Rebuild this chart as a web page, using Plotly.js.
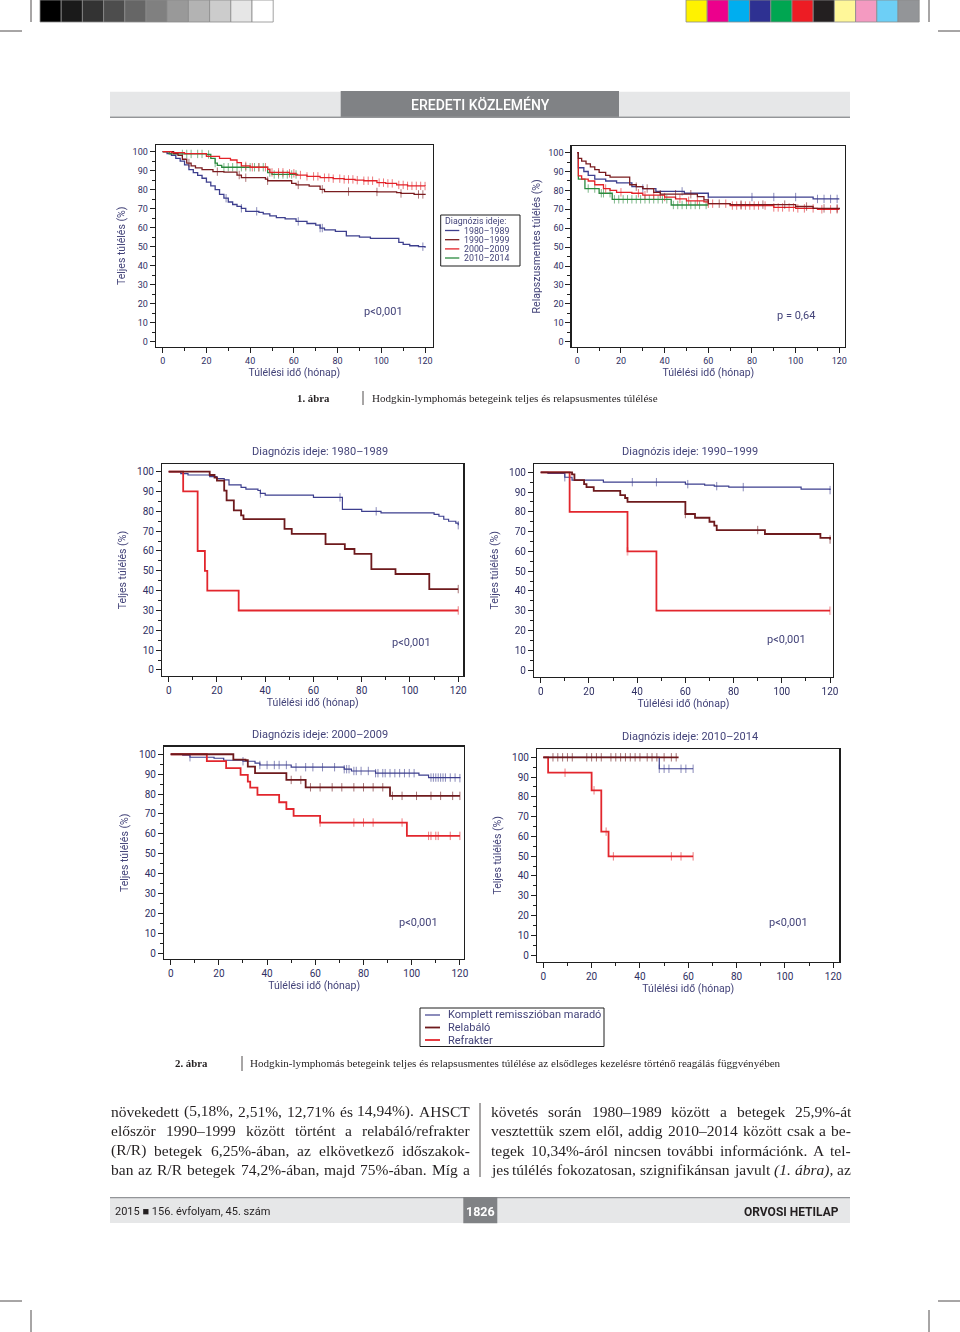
<!DOCTYPE html>
<html lang="hu"><head><meta charset="utf-8">
<script src="https://cdn.plot.ly/plotly-3.0.1.min.js"></script>
<style>html,body{margin:0;padding:0;background:#fff}#chart{width:960px;height:1332px}</style>
</head><body><div id="chart"></div>
<script>
// ================= DATA =================
const xTicks = [0,20,40,60,80,100,120];
const yTicks = [0,10,20,30,40,50,60,70,80,90,100];
const periodNames = ['1980–1989','1990–1999','2000–2009','2010–2014'];
const responseNames = ['Komplett remisszióban maradó','Relabáló','Refrakter'];
const pValues = ['p<0,001','p = 0,64','p<0,001','p<0,001','p<0,001','p<0,001'];

// Figure 1 (left) – overall survival by diagnosis period
const os8089_t = [0,2,4,6,8,10,12,14,16,18,20,22,24,26,28,30,32,34,36,38,44,46,49,52,56,61,66,70,72,74,79,84,90,95,108,110,113,117,120];
const os8089_s = [100,99,98,96.5,95,93,90.5,89,87.5,86,84,82,80,77.5,75.5,73.5,72.2,71.2,70.2,68.6,68,67.3,66.2,65.3,64.6,63.3,62.2,61.3,59.8,58.8,58,55.7,55,54.4,52.3,51.2,50.5,50,49.5];
const os8089_c = [29,36,43,62,72,73,119];
const os9099_t = [0,5,7,9,11,13,15,18,23,28,34,36,47,48,59,61,67,72,74,85,98,107,109,115,120];
const os9099_s = [100,99,98,96,94,92.5,91.5,90.5,89.5,89.2,87.7,86.3,85.5,84.7,83.3,82.5,81.9,80.2,79,79,78.8,78.4,78,77.5,77.2];
const os9099_c = [12,25,35,38,48,62,73,85,98,109,117,119];
const os0009_t = [0,4,10,20,26,31,34,36,40,48,49,58,61,66,72,78,83,88,92,98,102,107,112,120];
const os0009_s = [100,99.5,99,97.5,96.5,95.6,94.2,92.5,91.8,90.7,89.1,88.6,87.7,87,86.3,85.8,85.4,85,84.7,83.7,83.3,82.5,82,81.9];
const os0009_c = [38,41,44,47,50,53,55,58,60,63,66,69,71,74,76,78,81,83,85,87,89,92,94,96,99,101,103,105,108,110,112,114,116,118,120];
const os1014_t = [0,3,20,22,24,25,27,48,50,62];
const os1014_s = [100,98.8,98.5,96.5,94,92.8,91.8,89,88,88];
const os1014_c = [9,11,13,16,18,21,24,28,30,32,34,36,38,40,42,44,46,49,51,53,55,57,59,61];

// Figure 1 (right) – relapse-free survival by diagnosis period
const rfs8089_t = [0,0.5,3,5,8,13,18,25,30,36,49,60,108,120];
const rfs8089_s = [100,92,90,88,86,85,84,82,81,79.5,78.5,76.5,75.5,75.5];
const rfs8089_c = [30,48,60,80,90,100,110,113,116,119];
const rfs9099_t = [0,0.5,2,4,6,8,10,13,15,24,27,30,35,38,55,58,60,70,100,108,120];
const rfs9099_s = [100,97,95.5,94,92.5,91,89.5,88,87,83,82,81,79,78,76.7,75,73,72.5,71.5,70.5,70];
const rfs9099_c = [27,32,38,45,52,65,75,85,95,105,113,119];
const rfs0009_t = [0,0.5,2,5,8,12,15,18,25,30,40,45,50,58,60,70,90,100,110,120];
const rfs0009_s = [100,87.7,86,85,83,81,80,79,78.5,77.5,76.5,75.5,74.5,74,73,72,71,70.5,70,70];
const rfs0009_c = [13,20,28,31,35,40,47,51,55,60,62,68,71,73,75,77,79,81,83,86,90,92,94,97,99,101,104,108,112,116,119];
const rfs1014_t = [0,0.5,3.5,10,16,43,60];
const rfs1014_s = [100,86,81,78.5,75.3,72.3,72.3];
const rfs1014_c = [5,8,11,12,15,17,19,21,23,25,27,29,31,33,35,37,39,41,44,46,48,50,52,54,56,59];

// Figure 2 – overall survival by response to first-line treatment
// A: 1980–1989
const a_cr_t = [0,5,8,17,20,23,25,30,32,37,38,40,60,72,80,88,110,112,114,116,119,120];
const a_cr_s = [100,99,98.3,97.5,96.5,95.8,93.3,92.1,91.2,90.5,89,88.2,87,81,80,79.2,78.5,77.5,76,75,74,73];
const a_cr_c = [38,71,86,120];
const a_rel_t = [0,17,19,20,23,24,27,30,31,48,51,65,73,77,84,94,108,120];
const a_rel_s = [100,98.3,97,95.5,90.4,85.5,80.5,78,76.1,71.1,68.6,63.5,61,58.5,50.9,48.4,40.8,40.8];
const a_rel_c = [120];
const a_ref_t = [0,6,12,15,16,29,120];
const a_ref_s = [100,90,60,50,40,30,30];
const a_ref_c = [120];
// B: 1990–1999
const b_cr_t = [0,3,10,13,26,60,68,72,78,108,120];
const b_cr_s = [100,99.5,97.5,96,95,94,93.5,93,92.5,91.5,91];
const b_cr_c = [10,38,48,61,73,84,120];
const b_rel_t = [0,13,14,18,19,22,33,35,36,60,64,70,72,73,93,116,120];
const b_rel_s = [100,99,96,94,92.5,90.6,88.5,87,85,78.9,77,75,73,70.8,68.8,66.8,66];
const b_rel_c = [60,90,120];
const b_ref_t = [0,12,36,48,120];
const b_ref_s = [100,80,60,30,30];
const b_ref_c = [36,120];
// C: 2000–2009
const c_cr_t = [0,5,8,18,22,30,35,37,50,72,75,85,103,107,120];
const c_cr_s = [100,99.5,98.5,98,97,96.5,95.5,94.6,93.5,92.5,91.6,90.5,89.5,88.3,88];
const c_cr_c = [8,30,37,40,43,45,48,52,56,59,63,68,72,73,74,76,77,79,82,85,86,88,89,91,93,95,97,99,101,108,109,110,111,112,113,114,116,118,120];
const c_rel_t = [0,26,31,32,35,48,56,91,120];
const c_rel_s = [100,97.3,97,93.8,90.5,87.1,83.4,79.1,79.1];
const c_rel_c = [50,54,58,62,67,71,76,80,84,88,92,96,102,108,112,117,120];
const c_ref_t = [0,15,23,29,32,33,36,45,48,51,62,98,120];
const c_ref_s = [100,96.6,93,89.6,86.3,83.2,79.6,75.9,72.5,69,65.7,59,59];
const c_ref_c = [62,76,80,84,96,107,108,110,111,116,120];
// D: 2010–2014
const d_cr_t = [0,48,62];
const d_cr_s = [100,94.2,94.2];
const d_cr_c = [48,50,52,57,59,62];
const d_rel_t = [0,56];
const d_rel_s = [100,100];
const d_rel_c = [4,6,8,10,12,18,20,22,24,28,30,32,34,36,38,40,43,45,47,50,53,55];
const d_ref_t = [0,2,20,24,27,62];
const d_ref_s = [100,92.2,83.3,62.4,49.9,49.9];
const d_ref_c = [9,21,26,29,53,57,62];

// Page text
const bodyLeft = [
 'növekedett (5,18%, 2,51%, 12,71% és 14,94%). AHSCT',
 'először 1990–1999 között történt a relabáló/refrakter',
 '(R/R) betegek 6,25%-ában, az elkövetkező időszakok-',
 'ban az R/R betegek 74,2%-ában, majd 75%-ában. Míg a'
];
const bodyRight = [
 'követés során 1980–1989 között a betegek 25,9%-át',
 'vesztettük szem elől, addig 2010–2014 között csak a be-',
 'tegek 10,34%-áról nincsen további információnk. A tel-',
 'jes túlélés fokozatosan, szignifikánsan javult *(1. ábra)*, az'
];
const caption1 = ['1. ábra','Hodgkin-lymphomás betegeink teljes és relapsusmentes túlélése'];
const caption2 = ['2. ábra','Hodgkin-lymphomás betegeink teljes és relapsusmentes túlélése az elsődleges kezelésre történő reagálás függvényében'];

// ================= STYLE / LAYOUT =================
const W = 960, H = 1332;
const X = v => v / W, Y = v => 1 - v / H;
const SANS = 'Roboto, "Liberation Sans", sans-serif';
const SERIF = '"Liberation Serif", "DejaVu Serif", serif';
const INK = '#231f20', FRAME = '#1f1f1f', TICKC = '#2f2f63', TITLEC = '#434379';
const periodColors = ['#3d3f8e','#7a1c1f','#e32228','#2b8a3e'];
const responseColors = ['#3d3f8e','#6e1a1d','#e2262d'];

const PANELS = [
 {box:[156,432.7,145,346.7], xr:[-3.06,123.5], yr:[-2.63,103.5], yt:'Teljes túlélés (%)', p:[363,311], tf:9, xs:0, ys:5},
 {box:[571.7,845,146,346.7], xr:[-2.56,122.6], yr:[-2.65,103.5], yt:'Relapszusmentes túlélés (%)', p:[776,315], tf:9, xs:0, ys:5},
 {box:[162.3,463.3,464.3,676], xr:[-2.65,122.1], yr:[-3.03,103.7], yt:'Teljes túlélés (%)', p:[391,643], title:[320,451], tf:10, xs:2, ys:8},
 {box:[534.3,832.7,464,676.7], xr:[-2.65,121.1], yr:[-3.39,104.2], yt:'Teljes túlélés (%)', p:[766,639], title:[690,451], tf:10, xs:2, ys:8},
 {box:[164.3,464,746.7,959], xr:[-2.65,121.7], yr:[-2.86,103.8], yt:'Teljes túlélés (%)', p:[398,922], title:[320,734], tf:10, xs:2, ys:8},
 {box:[537.3,839.3,749,961.7], xr:[-2.48,122.5], yr:[-3.39,104.2], yt:'Teljes túlélés (%)', p:[768,923], title:[690,736], tf:10, xs:2, ys:8}
];

const curves = [
 {ax:1,t:os8089_t,s:os8089_s,c:os8089_c,col:periodColors[0],w:1.3,name:periodNames[0]},
 {ax:1,t:os1014_t,s:os1014_s,c:os1014_c,col:periodColors[3],w:1.3,name:periodNames[3]},
 {ax:1,t:os9099_t,s:os9099_s,c:os9099_c,col:periodColors[1],w:1.3,name:periodNames[1]},
 {ax:1,t:os0009_t,s:os0009_s,c:os0009_c,col:periodColors[2],w:1.3,name:periodNames[2]},
 {ax:2,t:rfs1014_t,s:rfs1014_s,c:rfs1014_c,col:periodColors[3],w:1.3,name:periodNames[3]},
 {ax:2,t:rfs8089_t,s:rfs8089_s,c:rfs8089_c,col:periodColors[0],w:1.3,name:periodNames[0]},
 {ax:2,t:rfs0009_t,s:rfs0009_s,c:rfs0009_c,col:periodColors[2],w:1.3,name:periodNames[2]},
 {ax:2,t:rfs9099_t,s:rfs9099_s,c:rfs9099_c,col:periodColors[1],w:1.3,name:periodNames[1]},
 {ax:3,t:a_cr_t,s:a_cr_s,c:a_cr_c,col:responseColors[0],w:1.2,name:responseNames[0]},
 {ax:3,t:a_ref_t,s:a_ref_s,c:a_ref_c,col:responseColors[2],w:1.8,name:responseNames[2]},
 {ax:3,t:a_rel_t,s:a_rel_s,c:a_rel_c,col:responseColors[1],w:1.8,name:responseNames[1]},
 {ax:4,t:b_cr_t,s:b_cr_s,c:b_cr_c,col:responseColors[0],w:1.2,name:responseNames[0]},
 {ax:4,t:b_ref_t,s:b_ref_s,c:b_ref_c,col:responseColors[2],w:1.8,name:responseNames[2]},
 {ax:4,t:b_rel_t,s:b_rel_s,c:b_rel_c,col:responseColors[1],w:1.8,name:responseNames[1]},
 {ax:5,t:c_cr_t,s:c_cr_s,c:c_cr_c,col:responseColors[0],w:1.2,name:responseNames[0]},
 {ax:5,t:c_ref_t,s:c_ref_s,c:c_ref_c,col:responseColors[2],w:1.8,name:responseNames[2]},
 {ax:5,t:c_rel_t,s:c_rel_s,c:c_rel_c,col:responseColors[1],w:1.8,name:responseNames[1]},
 {ax:6,t:d_cr_t,s:d_cr_s,c:d_cr_c,col:responseColors[0],w:1.2,name:responseNames[0]},
 {ax:6,t:d_ref_t,s:d_ref_s,c:d_ref_c,col:responseColors[2],w:1.8,name:responseNames[2]},
 {ax:6,t:d_rel_t,s:d_rel_s,c:d_rel_c,col:responseColors[1],w:1.8,name:responseNames[1]}
];

function stepValue(t, s, at) { let v = s[0]; for (let i = 0; i < t.length; i++) if (t[i] <= at) v = s[i]; return v; }

const traces = [];
curves.forEach(cv => {
  const sfx = cv.ax === 1 ? '' : String(cv.ax);
  traces.push({type:'scatter', mode:'lines', x:cv.t, y:cv.s, name:cv.name, showlegend:false,
    xaxis:'x'+sfx, yaxis:'y'+sfx, line:{shape:'hv', color:cv.col, width:cv.w}, hoverinfo:'skip'});
  traces.push({type:'scatter', mode:'markers', x:cv.c, y:cv.c.map(a => stepValue(cv.t, cv.s, a)), showlegend:false,
    xaxis:'x'+sfx, yaxis:'y'+sfx, opacity:0.6,
    marker:{symbol:'line-ns-open', size:6, color:cv.col, line:{width:1, color:cv.col}}, hoverinfo:'skip'});
});

const layout = {width:W, height:H, margin:{l:0,r:0,t:0,b:0}, autosize:false, showlegend:false,
  paper_bgcolor:'#ffffff', plot_bgcolor:'#ffffff', font:{family:SANS, color:TICKC},
  shapes:[], annotations:[]};

PANELS.forEach((p, i) => {
  const sfx = i === 0 ? '' : String(i + 1);
  const common = {showline:true, mirror:true, linecolor:FRAME, linewidth:1.4, ticks:'outside', ticklen:5,
    tickwidth:1, tickcolor:FRAME, showgrid:false, zeroline:false, fixedrange:true,
    tickfont:{family:SANS, size:p.tf, color:TICKC}};
  layout['xaxis'+sfx] = Object.assign({}, common, {domain:[X(p.box[0]), X(p.box[1])], range:p.xr,
    anchor:'y'+sfx, tickmode:'array', tickvals:xTicks,
    minor:{tickmode:'linear', tick0:0, dtick:10, ticks:'outside', ticklen:3, tickcolor:FRAME},
    title:{text:'Túlélési idő (hónap)', font:{family:SANS, size:10.5, color:TITLEC}, standoff:p.xs}});
  layout['yaxis'+sfx] = Object.assign({}, common, {domain:[Y(p.box[3]), Y(p.box[2])], range:p.yr,
    anchor:'x'+sfx, tickmode:'array', tickvals:yTicks,
    minor:{tickmode:'linear', tick0:0, dtick:5, ticks:'outside', ticklen:3, tickcolor:FRAME},
    title:{text:p.yt, font:{family:SANS, size:10.5, color:TITLEC}, standoff:p.ys}});
  layout.annotations.push({xref:'paper', yref:'paper', x:X(p.p[0]), y:Y(p.p[1]), xanchor:'left', yanchor:'middle',
    text:pValues[i], showarrow:false, borderpad:0, font:{family:SANS, size:11, color:TITLEC}});
  if (p.title) layout.annotations.push({xref:'paper', yref:'paper', x:X(p.title[0]), y:Y(p.title[1]),
    xanchor:'center', yanchor:'middle', showarrow:false, borderpad:0,
    text:'Diagnózis ideje: ' + periodNames[i - 2], font:{family:SANS, size:11, color:TITLEC}});
});

// helpers for page decoration
function rect(x0,y0,x1,y1,fill,lineCol,lw){ layout.shapes.push({type:'rect',xref:'paper',yref:'paper',x0:X(x0),x1:X(x1),y0:Y(y1),y1:Y(y0),fillcolor:fill,line:{color:lineCol||fill,width:lw===undefined?0:lw},layer:'above'}); }
function seg(x0,y0,x1,y1,col,lw){ layout.shapes.push({type:'line',xref:'paper',yref:'paper',x0:X(x0),x1:X(x1),y0:Y(y0),y1:Y(y1),line:{color:col,width:lw},layer:'above'}); }
function txt(x,y,text,font,anchor){ layout.annotations.push({xref:'paper',yref:'paper',x:X(x),y:Y(y),xanchor:anchor||'left',yanchor:'middle',text:text,showarrow:false,borderpad:0,font:font}); }

// Figure 1 legend
rect(440.7,215,520,266,'rgba(255,255,255,0)',FRAME,1);
txt(443.5,221,'Diagnózis ideje:',{family:SANS,size:8.8,color:TITLEC});
[230.5,239.7,248.9,258].forEach((yy,k)=>{ seg(445,yy,459.3,yy,periodColors[k],1.3); txt(463,yy,periodNames[k],{family:SANS,size:8.8,color:TITLEC}); });

// Figure 2 legend
rect(420,1008,604,1046.5,'rgba(255,255,255,0)',FRAME,1);
[1015,1027.5,1040].forEach((yy,k)=>{ seg(425,yy,440,yy,responseColors[k],k===0?1.2:1.8); txt(447,yy,responseNames[k],{family:SANS,size:11,color:TITLEC}); });

// captions
txt(296,398,'<b>'+caption1[0]+'</b>',{family:SERIF,size:10.8,color:INK});
seg(363,391,363,405,INK,0.8);
txt(371,398,caption1[1],{family:SERIF,size:11.1,color:INK});
txt(174,1063,'<b>'+caption2[0]+'</b>',{family:SERIF,size:10.8,color:INK});
seg(242,1056,242,1071,INK,0.8);
txt(249,1063,caption2[1],{family:SERIF,size:11.1,color:INK});

// header band
rect(110,91.7,850,116.5,'#e6e7e8');
rect(340.7,91,619,117,'#808285');
seg(110,117.2,850,117.2,'#939598',1.5);
txt(480,104.5,'EREDETI KÖZLEMÉNY',{family:SANS,size:14,color:'#ffffff',weight:500},'center');

// footer band
rect(110,1198,850,1223,'#e6e7e8');
seg(110,1197.6,850,1197.6,'#939598',1.2);
rect(463.3,1197,497.3,1223.3,'#808285');
txt(480,1211.5,'<b>1826</b>',{family:SANS,size:12.5,color:'#ffffff'},'center');
txt(114,1211.5,'2015 ■ 156. évfolyam, 45. szám',{family:SANS,size:11,color:INK});
txt(840,1211.5,'<b>ORVOSI HETILAP</b>',{family:SANS,size:12,color:INK},'right');

// colour control strips
const greys = ['#000000','#1a1a1a','#333333','#4d4d4d','#666666','#808080','#999999','#b3b3b3','#cccccc','#e6e6e6','#ffffff'];
const inks = ['#fff200','#ec008c','#00aeef','#2e3192','#00a651','#ed1c24','#231f20','#fff799','#f49ac1','#6dcff6','#939598'];
greys.forEach((c,k)=>rect(40+k*21.2,0,40+(k+1)*21.2,22,c,'#8a8a8a',0.8));
inks.forEach((c,k)=>rect(686+k*21.2,0,686+(k+1)*21.2,22,c,'#8a8a8a',0.8));
// crop marks
seg(31,0,31,22,INK,0.8); seg(0,31,22,31,INK,0.8);
seg(929,0,929,22,INK,0.8); seg(938,31,960,31,INK,0.8);
seg(0,1301,22,1301,INK,0.8); seg(31,1310,31,1332,INK,0.8);
seg(938,1301,960,1301,INK,0.8); seg(929,1310,929,1332,INK,0.8);

// body text – justified columns
seg(480,1103,480,1177,INK,0.8);
const cv = document.createElement('canvas').getContext('2d');
function parseWords(line) {
  let inIt = false;
  return line.split(' ').map(w => { let it = inIt, clean = ''; for (const ch of w) { if (ch === '*') { inIt = !inIt; it = true; } else clean += ch; } return {t:clean, it:it || inIt}; });
}
function wordWidths(words, size) { return words.map(w => { cv.font = (w.it ? 'italic ' : '') + size + 'px "Liberation Serif"'; return cv.measureText(w.t).width; }); }
const allLines = bodyLeft.concat(bodyRight);
let BODY = 16;
for (; BODY > 13; BODY -= 0.25) {
  const ok = allLines.every(l => { const ws = parseWords(l); const tw = wordWidths(ws, BODY).reduce((a,b)=>a+b,0); return (359 - tw) / (ws.length - 1) >= BODY * 0.22; });
  if (ok) break;
}
function justify(line, x0, x1, y) {
  const words = parseWords(line);
  const widths = wordWidths(words, BODY);
  const total = widths.reduce((a,b)=>a+b,0);
  const gap = (x1 - x0 - total) / (words.length - 1);
  let x = x0;
  words.forEach((w,k) => { txt(x, y, w.it ? '<i>'+w.t+'</i>' : w.t, {family:SERIF, size:BODY, color:INK}); x += widths[k] + gap; });
}
const lineY = [1111,1130.5,1150,1169.5];
bodyLeft.forEach((l,k)=>justify(l,110,469,lineY[k]));
bodyRight.forEach((l,k)=>justify(l,490,850,lineY[k]));

Plotly.newPlot('chart', traces, layout, {staticPlot:true, displayModeBar:false});
</script></body></html>
